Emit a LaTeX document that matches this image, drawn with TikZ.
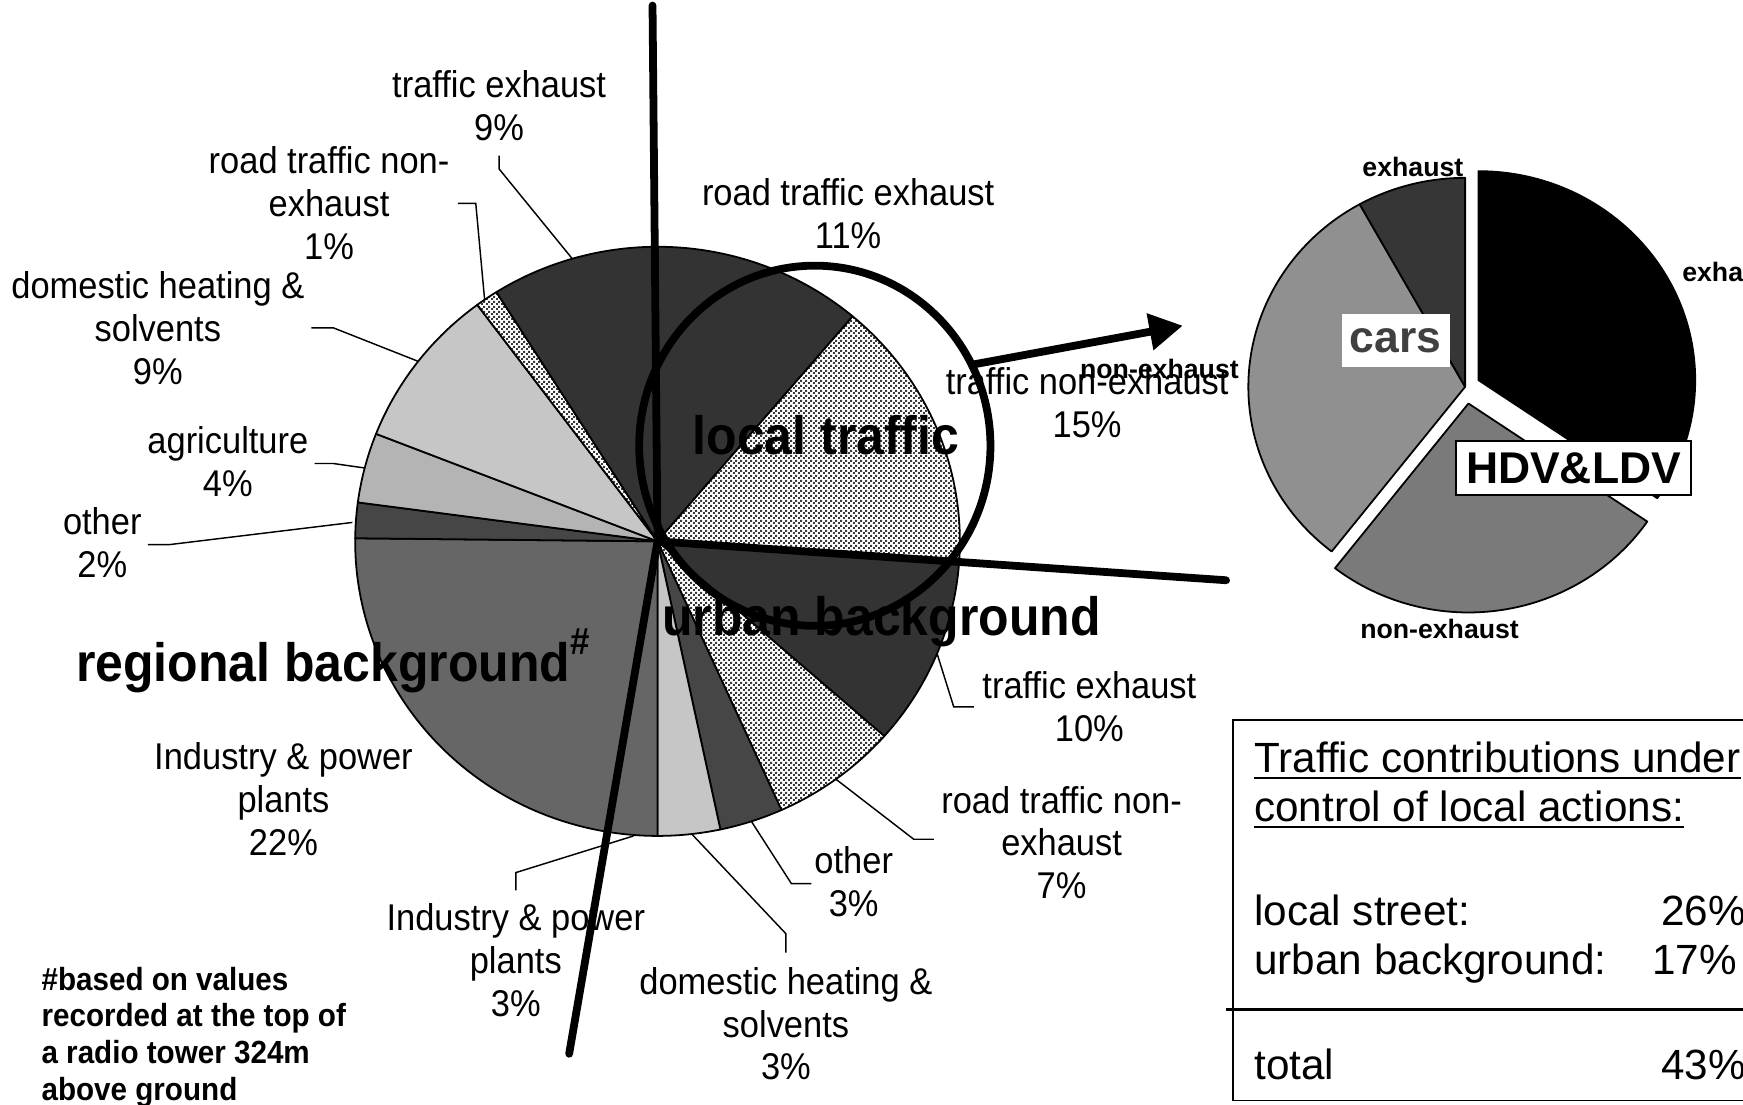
\documentclass[tikz,border=0pt]{standalone}
\usepackage{fontspec}
\setmainfont{Liberation Sans}
\newfontfamily\narrowfont[FakeStretch=0.925]{Liberation Sans}
\usetikzlibrary{patterns,arrows.meta}

\definecolor{cdark}{HTML}{333333}
\definecolor{cother}{HTML}{464646}
\definecolor{cind}{HTML}{666666}
\definecolor{cdom}{HTML}{C6C6C6}
\definecolor{cagr}{HTML}{B4B4B4}
\definecolor{cdot}{HTML}{383838}
\definecolor{chdvne}{HTML}{7A7A7A}
\definecolor{ccarne}{HTML}{909090}
\definecolor{ccarex}{HTML}{363636}
\definecolor{ccarstxt}{HTML}{404040}

\pgfdeclarepatternformonly{fdots}{\pgfpointorigin}{\pgfpoint{2.1pt}{2.1pt}}{\pgfpoint{2.1pt}{2.1pt}}{%
  \pgfpathrectangle{\pgfpoint{0pt}{0pt}}{\pgfpoint{0.95pt}{0.95pt}}%
  \pgfpathrectangle{\pgfpoint{1.05pt}{1.05pt}}{\pgfpoint{0.95pt}{0.95pt}}%
  \pgfusepath{fill}}

% #1 style, #2 cx, #3 cy, #4 rx, #5 ry, #6 start (deg clockwise from top), #7 end
\newcommand\pieslice[7]{%
  \path[#1] (#2,#3) -- ++({90-#6}:#4 and #5)
    arc[start angle={90-#6}, end angle={90-#7}, x radius=#4, y radius=#5] -- cycle;}

\begin{document}
\begin{tikzpicture}[x=0.5pt,y=0.5pt,
  slice/.style={draw=black, line width=0.8pt, line join=round},
  dotfill/.style={preaction={fill=white}, pattern=fdots, pattern color=cdot},
  leader/.style={draw=black, line width=0.65pt},
  heavy/.style={draw=black, line width=3.5pt, line cap=round},
  lbl/.style={font=\narrowfont\fontsize{16.75}{19.25}\selectfont, align=center, inner sep=0pt},
  big/.style={font=\narrowfont\bfseries\fontsize{24.3}{28}\selectfont, inner sep=0pt},
  foot/.style={font=\narrowfont\bfseries\fontsize{14.4}{16.5}\selectfont, align=left, inner sep=0pt},
  small/.style={font=\bfseries\fontsize{12}{14}\selectfont, inner sep=0pt},
  boxtxt/.style={font=\fontsize{19}{22}\selectfont, inner sep=0pt, anchor=base west},
  tag/.style={fill=white, inner sep=0pt, minimum height=24pt, font=\bfseries\fontsize{20}{24}\selectfont},
]
\useasboundingbox (0,0) rectangle (1568,994);
\clip (0,0) rectangle (1568,994);
\fill[white] (0,0) rectangle (1568,994);

% main pie
\pieslice{slice,fill=cdark}{591.5}{507}{272}{265}{0}{40.2}
\pieslice{slice,dotfill}{591.5}{507}{272}{265}{40.2}{93.9}
\pieslice{slice,fill=cdark}{591.5}{507}{272}{265}{93.9}{131.4}
\pieslice{slice,dotfill}{591.5}{507}{272}{265}{131.4}{155.8}
\pieslice{slice,fill=cother}{591.5}{507}{272}{265}{155.8}{168.0}
\pieslice{slice,fill=cdom}{591.5}{507}{272}{265}{168.0}{180}
\pieslice{slice,fill=cind}{591.5}{507}{272}{265}{180}{189.5}
\pieslice{slice,fill=cind}{591.5}{507}{272}{265}{189.5}{270.6}
\pieslice{slice,fill=cother}{591.5}{507}{272}{265}{270.6}{277.6}
\pieslice{slice,fill=cagr}{591.5}{507}{272}{265}{277.6}{291.4}
\pieslice{slice,fill=cdom}{591.5}{507}{272}{265}{291.4}{323.4}
\pieslice{slice,dotfill}{591.5}{507}{272}{265}{323.4}{327.8}
\pieslice{slice,fill=cdark}{591.5}{507}{272}{265}{327.8}{360}

% small pie
\pieslice{slice,fill=black}{1330}{652}{195}{188}{0}{124.4}
\pieslice{slice,fill=chdvne}{1321}{631}{195}{188}{124.4}{218}
\pieslice{slice,fill=ccarne}{1318}{646}{195}{188}{218}{330.9}
\pieslice{slice,fill=ccarex}{1318}{646}{195}{188}{330.9}{360}

% labels of the main pie
\node[lbl] (l1) at (449,899) {traffic exhaust\\9\%};
\node[lbl] (l2) at (296,811) {road traffic non-\\exhaust\\1\%};
\node[lbl] (l3) at (142,699) {domestic heating \&\\solvents\\9\%};
\node[lbl] (l4) at (205,578.5) {agriculture\\4\%};
\node[lbl] (l5) at (92,506) {other\\2\%};
\node[lbl] (l6) at (763,802) {road traffic exhaust\\11\%};
\node[lbl] (l7) at (978,632) {traffic non-exhaust\\15\%};
\node[lbl] (l8) at (980,358.5) {traffic exhaust\\10\%};
\node[lbl] (l9) at (955,236) {road traffic non-\\exhaust\\7\%};
\node[lbl] (l10) at (768,201) {other\\3\%};
\node[lbl] (l11) at (707,73) {domestic heating \&\\solvents\\3\%};
\node[lbl] (l12) at (464,130) {Industry \& power\\plants\\3\%};
\node[lbl] (l13) at (255,275) {Industry \& power\\plants\\22\%};

% leader lines
\draw[leader] (515,761) -- (449,842) -- (449,854);
\draw[leader] (436,724) -- (428,811) -- (412,811);
\draw[leader] (376,669) -- (300,699) -- (280,699);
\draw[leader] (328,573) -- (300,577) -- (283,577);
\draw[leader] (317,524) -- (152,504) -- (133,504);
\draw[leader] (843,406) -- (858,358) -- (876,358);
\draw[leader] (752,293) -- (822,239) -- (840,239);
\draw[leader] (676,255) -- (712,199) -- (730,199);
\draw[leader] (622,244) -- (707,154) -- (707,137);
\draw[leader] (570,242) -- (464,209) -- (464,193);

% group labels
\node[big, anchor=base] (lt) at (743,585) {local traffic};
\node[big, anchor=base] (ub) at (793,422) {urban background};
\node[big, anchor=base west] (rb) at (68,381) {regional background\raisebox{12pt}{\fontsize{17}{17}\selectfont\#}};

\node[foot, anchor=west] (fn) at (37,61) {\#based on values\\recorded at the top of\\a radio tower 324m\\above ground};

% labels of the small pie
\node[small] (rp1) at (1271,844) {exhaust};
\node[small, anchor=west] (rp2) at (1513,749) {exhaust};
\node[small] (rp3) at (1295,428) {non-exhaust};
\node[small] (rp4) at (1043,662) {non-exhaust};

% heavy lines, circle and arrow
\coordinate (pc) at (591.5,507);
\coordinate (vtop) at (587,989);
\coordinate (rend) at (1103,472);
\coordinate (lend) at (512,46);
\draw[heavy] (vtop) -- (pc);
\draw[heavy] (pc) -- (rend);
\draw[heavy] (pc) -- (lend);
\draw[line width=3.5pt] (733,593) ellipse [x radius=158, y radius=162];
\coordinate (astart) at (875,666);
\coordinate (atip) at (1064,701);
\draw[line width=3.5pt, -{Triangle[length=15pt,width=16pt]}] (astart) -- (atip);

% tags on the small pie
\node[tag, minimum width=48.5pt, text=ccarstxt] (cars) at (1255.5,687.5) {cars};
\node[tag, draw=black, line width=0.8pt, minimum width=105.5pt] (hdv) at (1415.5,573) {HDV\&LDV};

% summary box
\draw[line width=0.75pt] (1600,346) -- (1109,346) -- (1109,4) -- (1600,4);
\draw[line width=1.4pt] (1103,86) -- (1600,86);
\node[boxtxt] (t1) at (1128,299) {Traffic contributions under};
\draw[line width=0.8pt] ([yshift=-2.5pt]t1.base west) -- ([yshift=-2.5pt]t1.base east);
\node[boxtxt] (t2) at (1128,255) {control of local actions:};
\draw[line width=0.8pt] ([yshift=-2.5pt]t2.base west) -- ([yshift=-2.5pt]t2.base east);
\node[boxtxt] (t3) at (1128,161) {local street:};
\node[boxtxt] (t4) at (1494,161) {26\%};
\node[boxtxt] (t5) at (1128,117) {urban background:};
\node[boxtxt] (t6) at (1486,117) {17\%};
\node[boxtxt] (t7) at (1128,23) {total};
\node[boxtxt] (t8) at (1494,23) {43\%};
\end{tikzpicture}
\end{document}
